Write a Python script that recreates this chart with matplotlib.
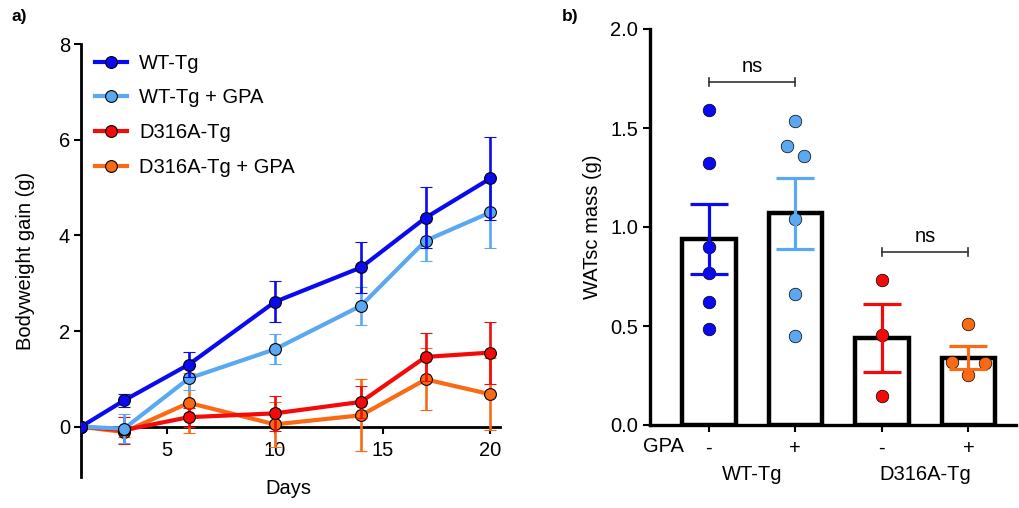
import matplotlib
matplotlib.use("Agg")
import matplotlib.pyplot as plt
from matplotlib.lines import Line2D
import numpy as np

plt.rcParams['font.family'] = ['Liberation Sans', 'DejaVu Sans']

# ---------------- data: panel a ----------------
days = [1, 3, 6, 10, 14, 17, 20]
series_names = ["WT-Tg", "WT-Tg + GPA", "D316A-Tg", "D316A-Tg + GPA"]
wt_mean = [0.0, 0.55, 1.30, 2.61, 3.33, 4.37, 5.19]
wt_err = [0.0, 0.13, 0.26, 0.43, 0.53, 0.64, 0.86]
wtgpa_mean = [0.0, -0.04, 1.01, 1.62, 2.53, 3.89, 4.48]
wtgpa_err = [0.0, 0.30, 0.25, 0.31, 0.40, 0.42, 0.74]
d_mean = [0.0, -0.07, 0.20, 0.28, 0.52, 1.46, 1.55]
d_err = [0.0, 0.28, 0.20, 0.37, 0.34, 0.50, 0.65]
dgpa_mean = [0.0, -0.11, 0.50, 0.05, 0.24, 0.99, 0.68]
dgpa_err = [0.0, 0.10, 0.62, 0.47, 0.75, 0.65, 0.75]

# ---------------- data: panel b ----------------
group_tick_labels = ["-", "+", "-", "+"]
group_names = ["WT-Tg", "D316A-Tg"]
bar_means = [0.94, 1.07, 0.44, 0.34]
bar_sem = [0.175, 0.18, 0.17, 0.057]
points_wt = [1.589, 1.323, 0.898, 0.770, 0.620, 0.484]
points_wtgpa = [1.537, 1.409, 1.360, 1.040, 0.662, 0.447]
points_d = [0.730, 0.455, 0.147]
points_dgpa = [0.511, 0.320, 0.315, 0.253]
sig_labels = ["ns", "ns"]
sig_heights = [1.734, 0.875]

colors = ["#0a0af0", "#5aa8f2", "#f50a0a", "#fa6a14"]
FS = 14.5

fig = plt.figure(figsize=(10.2, 5.08), dpi=100)
W, H = 1020, 508

# ---------------- panel a ----------------
axa = fig.add_axes([81 / W, 1 - 477 / H, (500 - 81) / W, (477 - 44) / H])
means = [wt_mean, wtgpa_mean, d_mean, dgpa_mean]
errs = [wt_err, wtgpa_err, d_err, dgpa_err]
draw_order = [3, 2, 1, 0]
for i in draw_order:
    axa.errorbar(days, means[i], yerr=errs[i], color=colors[i], lw=3.0,
                 elinewidth=1.9, capsize=4.5, capthick=1.9,
                 marker='o', markersize=8.5, markerfacecolor=colors[i],
                 markeredgecolor='black', markeredgewidth=0.8,
                 zorder=3 + (3 - i))
axa.set_xlim(1, 20.45)
axa.set_ylim(-1.05, 8)
axa.spines['right'].set_visible(False)
axa.spines['top'].set_visible(False)
axa.spines['bottom'].set_position(('data', 0))
axa.spines['bottom'].set_linewidth(2.0)
axa.spines['left'].set_linewidth(2.0)
axa.spines['bottom'].set_zorder(2)
axa.set_xticks([5, 10, 15, 20])
axa.set_yticks([0, 2, 4, 6, 8])
axa.tick_params(axis='both', labelsize=FS, width=1.5, length=5, direction='out', pad=3)
axa.tick_params(axis='x', pad=5)
axa.set_ylabel("Bodyweight gain (g)", fontsize=FS, labelpad=17)
fig.text(288 / W, 1 - 489 / H, "Days", fontsize=FS, ha='center', va='center')
leg_h = [Line2D([], [], color=colors[i], lw=3.0, marker='o', markersize=8.5,
                markerfacecolor=colors[i], markeredgecolor='black', markeredgewidth=0.8)
         for i in range(4)]
axa.legend(leg_h, series_names, loc='upper left', bbox_to_anchor=(0.0, 1.01),
           frameon=False, fontsize=FS, handlelength=1.6, handletextpad=0.6,
           labelspacing=0.78, borderaxespad=0.3)
fig.text(12 / W, 1 - 16 / H, "a)", fontsize=12.5, fontweight='bold', ha='left', va='center')

# ---------------- panel b ----------------
axb = fig.add_axes([650 / W, 1 - 425 / H, (1016 - 650) / W, (425 - 29) / H])
xpos = np.arange(len(bar_means))
axb.bar(xpos, bar_means, width=0.62, color='white', edgecolor='black', linewidth=3.2, zorder=2)

point_groups = [points_wt, points_wtgpa, points_d, points_dgpa]


def swarm_offsets(vals, thresh=0.066, step=0.19):
    vals = np.asarray(vals, dtype=float)
    order = np.argsort(vals)
    offs = np.zeros(len(vals))
    clusters = []
    cur = [order[0]]
    for k in order[1:]:
        if vals[k] - vals[cur[-1]] < thresh:
            cur.append(k)
        else:
            clusters.append(cur)
            cur = [k]
    clusters.append(cur)
    for cl in clusters:
        n = len(cl)
        if n == 1:
            continue
        if n % 2 == 0:
            desc = sorted(cl, key=lambda k: -vals[k])
            slots = []
            for j in range(n // 2):
                slots += [-(j + 0.5) * step, (j + 0.5) * step]
            for k, s in zip(desc, slots):
                offs[k] = s
        else:
            low = cl[0]
            offs[low] = 0.0
            rest = sorted(cl[1:], key=lambda k: -vals[k])
            slots = []
            for j in range(len(rest) // 2):
                slots += [-(j + 1) * step, (j + 1) * step]
            for k, s in zip(rest, slots):
                offs[k] = s
    return offs


for i, pts in enumerate(point_groups):
    offs = swarm_offsets(pts)
    axb.scatter(xpos[i] + offs, pts, s=82, color=colors[i], edgecolor='black',
                linewidth=0.5, zorder=4)
    axb.errorbar(xpos[i], bar_means[i], yerr=bar_sem[i], color=colors[i], lw=0,
                 elinewidth=2.3, capsize=14, capthick=2.3, zorder=5)

# significance brackets
pairs = [(0, 1), (2, 3)]
for (a, b), h, lab in zip(pairs, sig_heights, sig_labels):
    axb.plot([xpos[a], xpos[b]], [h, h], color='#333333', lw=1.2, zorder=3)
    for xx in (xpos[a], xpos[b]):
        axb.plot([xx, xx], [h - 0.02, h + 0.02], color='#333333', lw=1.2, zorder=3)
    axb.text((xpos[a] + xpos[b]) / 2, h + 0.03, lab, ha='center', va='bottom', fontsize=FS)

axb.set_xlim(-0.68, 3.55)
axb.set_ylim(0, 2.0)
axb.set_yticks([0.0, 0.5, 1.0, 1.5, 2.0])
axb.set_yticklabels(["0.0", "0.5", "1.0", "1.5", "2.0"])
axb.set_xticks(xpos)
axb.set_xticklabels(group_tick_labels)
axb.spines['right'].set_visible(False)
axb.spines['top'].set_visible(False)
axb.spines['bottom'].set_linewidth(2.4)
axb.spines['left'].set_linewidth(2.4)
axb.tick_params(axis='both', labelsize=FS, width=1.5, length=5, direction='out')
axb.tick_params(axis='x', pad=5)
axb.set_ylabel("WATsc mass (g)", fontsize=FS, labelpad=6)
fig.text(663 / W, 1 - 447 / H, "GPA", fontsize=FS, ha='center', va='center')
for g, name in enumerate(group_names):
    cx = (xpos[2 * g] + xpos[2 * g + 1]) / 2
    axb.text(cx, -0.25, name, ha='center', va='center', fontsize=FS, clip_on=False)
fig.text(570 / W, 1 - 17 / H, "b)", fontsize=12.5, fontweight='bold', ha='center', va='center')

fig.savefig("out.png", dpi=100)
